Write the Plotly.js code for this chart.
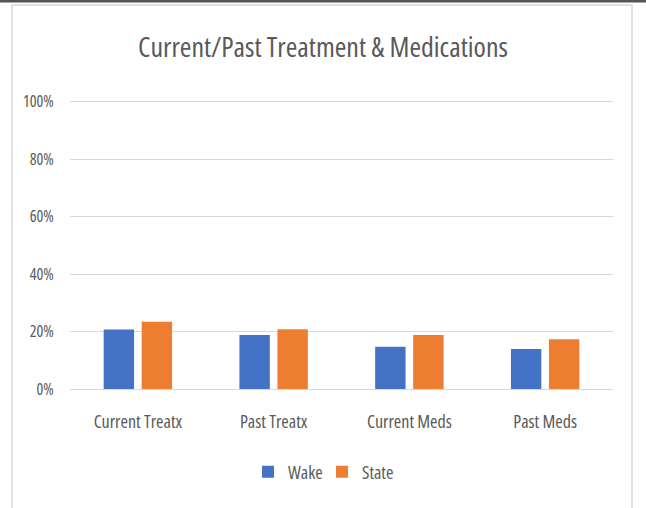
<!DOCTYPE html>
<html>
<head>
<meta charset="utf-8">
<script src="https://cdn.plot.ly/plotly-3.0.1.min.js"></script>
<style>
  html, body { margin: 0; padding: 0; background: #ffffff; }
  #chart { width: 646px; height: 508px; }
  #chart text { font-stretch: condensed !important; }
</style>
</head>
<body>
<div id="chart"></div>
<script>
const categories = ["Current Treatx", "Past Treatx", "Current Meds", "Past Meds"];
const wakeValues = [0.207, 0.188, 0.147, 0.139];
const stateValues = [0.234, 0.208, 0.188, 0.173];
const seriesNames = ["Wake", "State"];
const yTickValues = [0, 0.2, 0.4, 0.6, 0.8, 1.0];
const yTickLabels = ["0%", "20%", "40%", "60%", "80%", "100%"];

const FONT = '"Open Sans", Roboto, sans-serif';
const TXT = '#595959';

const data = [
  { type: 'bar', name: seriesNames[0], x: categories, y: wakeValues,
    marker: { color: '#4472C4' }, hoverinfo: 'none' },
  { type: 'bar', name: seriesNames[1], x: categories, y: stateValues,
    marker: { color: '#ED7D31' }, hoverinfo: 'none' }
];

const PH = 290;
const layout = {
  width: 646, height: 508,
  margin: { l: 70, r: 33, t: 99, b: 119 },
  paper_bgcolor: '#ffffff', plot_bgcolor: '#ffffff',
  font: { family: FONT, color: TXT, size: 16 },
  title: { text: 'Current/Past Treatment &amp; Medications',
           font: { family: FONT, size: 28, color: TXT },
           x: 0.5, xanchor: 'center', y: 1 - 47/508, yanchor: 'middle' },
  barmode: 'group', bargap: 0.44, bargroupgap: 0.2,
  xaxis: { type: 'category', showgrid: false, zeroline: false,
           showline: false, ticks: 'outside', ticklen: 16, tickcolor: 'rgba(0,0,0,0)',
           tickfont: { family: FONT, size: 18, color: TXT } },
  yaxis: { range: [0, 1.01], tickvals: yTickValues, ticktext: yTickLabels,
           showgrid: true, gridcolor: '#d9d9d9', gridwidth: 1,
           zeroline: true, zerolinecolor: '#d9d9d9', zerolinewidth: 1,
           showline: false, ticks: 'outside', ticklen: 12, tickcolor: 'rgba(0,0,0,0)',
           tickfont: { family: FONT, size: 16, color: TXT } },
  legend: { orientation: 'h', x: (248 - 70) / 543, xanchor: 'left', y: (389 - 472) / PH, yanchor: 'middle',
            font: { family: FONT, size: 18, color: TXT }, itemwidth: 30,
            entrywidth: 29, entrywidthmode: 'pixels',
            traceorder: 'normal' },
  shapes: [
    { type: 'rect', xref: 'paper', yref: 'paper',
      x0: (12 - 70) / 543, x1: (632 - 70) / 543, y0: (389 - 520) / PH, y1: (389 - 5) / PH,
      line: { color: '#d9d9d9', width: 1.5 }, fillcolor: 'rgba(0,0,0,0)', layer: 'below' },
    { type: 'rect', xref: 'paper', yref: 'paper',
      x0: -0.2, x1: 1.2, y0: (389 - 2.5) / PH, y1: (389 + 5) / PH,
      line: { width: 0 }, fillcolor: '#555555', layer: 'above' }
  ],
  showlegend: true
};

Plotly.newPlot('chart', data, layout, { staticPlot: true, displayModeBar: false });
</script>
</body>
</html>
